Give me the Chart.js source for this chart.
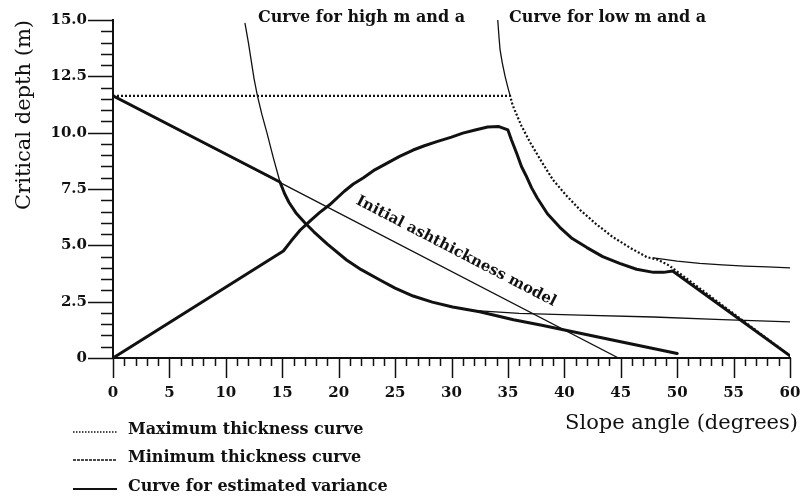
<!DOCTYPE html>
<html>
<head>
<meta charset="utf-8">
<script src="https://cdn.jsdelivr.net/npm/chart.js@4.4.1/dist/chart.umd.min.js"></script>
<style>
  html, body { margin: 0; padding: 0; background: #fff; }
  #wrap { width: 805px; height: 500px; position: relative; }
</style>
</head>
<body>
<div id="wrap"><canvas id="chart"></canvas></div>
<script>
// ---- Axis ticks ----
const slopeTickValues = [0, 5, 10, 15, 20, 25, 30, 35, 40, 45, 50, 55, 60];
const slopeTickLabels = ['0', '5', '10', '15', '20', '25', '30', '35', '40', '45', '50', '55', '60'];
const depthTickValues = [0, 2.5, 5, 7.5, 10, 12.5, 15];
const depthTickLabels = ['0', '2.5', '5.0', '7.5', '10.0', '12.5', '15.0'];

// ---- Initial ashthickness model (straight line) ----
const initialAngle = [0, 44.8];
const initialDepth = [11.63, 0];

// ---- Maximum thickness curve (dotted) ----
const maxAngle = [0, 35.2, 35.4, 35.6, 36.2, 37, 38, 39, 40.2, 41.4, 42.8, 44.3, 45.8, 47.3, 48.3, 49.3, 60];
const maxDepth = [11.63, 11.63, 11.25, 11.0, 10.3, 9.54, 8.7, 7.9, 7.2, 6.57, 5.95, 5.37, 4.9, 4.48, 4.36, 4.1, 0.1];

// ---- Curve for high m and a (thin parts) ----
const highTopAngle = [11.7, 12.0, 12.25, 12.5, 12.8, 13.2, 13.65, 14.2, 14.8];
const highTopDepth = [14.85, 14.0, 13.2, 12.4, 11.63, 10.8, 9.98, 8.9, 7.81];
const highTailAngle = [32.5, 36, 41.4, 47.9, 54, 60];
const highTailDepth = [2.09, 1.98, 1.9, 1.82, 1.7, 1.6];

// ---- Curve for low m and a (thin parts) ----
const lowTopAngle = [34.1, 34.2, 34.3, 34.5, 34.75, 35.0, 35.2];
const lowTopDepth = [15, 14.3, 13.7, 13.1, 12.5, 12.0, 11.63];
const lowTailAngle = [47.9, 50, 52, 54, 56, 58, 60];
const lowTailDepth = [4.44, 4.3, 4.2, 4.13, 4.08, 4.04, 4.0];

// ---- Curves for estimated variance (thick) ----
const riseAngle = [0, 15.1, 15.8, 16.6, 17.5, 18.3, 19.2, 20.5, 21.3, 22.2, 23.2, 24.3, 25.4, 26.6, 27.6, 28.7, 30, 31, 32.1, 33.2, 34.2, 35,
                   35.3, 35.8, 36.2, 36.6, 37.1, 37.6, 38.5, 39.6, 40.7, 42, 43.4, 44.9, 46.4, 47.9, 48.8, 49.6, 60];
const riseDepth = [0, 4.75, 5.2, 5.68, 6.1, 6.45, 6.8, 7.4, 7.72, 8.0, 8.35, 8.65, 8.95, 9.23, 9.42, 9.6, 9.8, 9.98, 10.12, 10.25, 10.27, 10.12,
                   9.7, 9.05, 8.5, 8.1, 7.55, 7.1, 6.4, 5.8, 5.3, 4.9, 4.5, 4.2, 3.94, 3.8, 3.8, 3.86, 0.1];
const fallAngle = [0, 14.8, 15.2, 15.6, 16.2, 17, 17.8, 19, 20.7, 22, 23.7, 25, 26.6, 28.3, 30.1, 32.5, 35.5, 38, 41.4, 45, 50];
const fallDepth = [11.63, 7.81, 7.3, 6.9, 6.45, 6.0, 5.6, 5.05, 4.35, 3.92, 3.45, 3.1, 2.75, 2.48, 2.26, 2.05, 1.7, 1.45, 1.1, 0.72, 0.2];

// ---- Text ----
const legendLabels = ['Maximum thickness curve', 'Minimum thickness curve', 'Curve for estimated variance'];
const curveLabels = ['Curve for high m and a', 'Curve for low m and a'];
const modelLabel = 'Initial ashthickness model';

const INK = '#111';
const SERIF = '"DejaVu Serif", "Liberation Serif", serif';

const pts = (xs, ys) => xs.map((x, i) => ({ x, y: ys[i] }));

function series(label, xs, ys, width, dash) {
  const dotted = !!dash;
  return {
    label,
    data: pts(xs, ys),
    showLine: true,
    borderColor: INK,
    backgroundColor: INK,
    borderWidth: width,
    borderDash: dash || [],
    pointRadius: 0,
    pointHoverRadius: 0,
    fill: false,
    tension: 0,
    borderCapStyle: dotted ? 'butt' : 'round',
    borderJoinStyle: 'round'
  };
}

const datasets = [
  series('Initial ashthickness model', initialAngle, initialDepth, 1.3),
  series('High m and a (upper)', highTopAngle, highTopDepth, 1.3),
  series('High m and a (tail)', highTailAngle, highTailDepth, 1.3),
  series('Low m and a (upper)', lowTopAngle, lowTopDepth, 1.3),
  series('Low m and a (tail)', lowTailAngle, lowTailDepth, 1.3),
  series('Estimated variance (rise)', riseAngle, riseDepth, 3),
  series('Estimated variance (fall)', fallAngle, fallDepth, 3),
  series('Maximum thickness', maxAngle, maxDepth, 2.2, [2, 2])
];

// Minor and major tick marks along both axes, placed through the scales
const tickMarks = {
  id: 'tickMarks',
  afterDraw(chart) {
    const { ctx, chartArea: a, scales: { x, y } } = chart;
    ctx.save();
    ctx.strokeStyle = INK;
    ctx.lineWidth = 1.5;
    ctx.beginPath();
    for (let v = x.min; v <= x.max + 1e-9; v += 1) {
      const px = Math.round(x.getPixelForValue(v)) + 0.5;
      const major = Math.abs(v / 5 - Math.round(v / 5)) < 1e-6;
      ctx.moveTo(px, a.bottom);
      ctx.lineTo(px, a.bottom + (major ? 20 : 8));
    }
    for (let v = y.min; v <= y.max + 1e-9; v += 0.5) {
      const py = Math.round(y.getPixelForValue(v)) + 0.5;
      const major = Math.abs(v / 2.5 - Math.round(v / 2.5)) < 1e-6;
      ctx.moveTo(a.left, py);
      ctx.lineTo(a.left - (major ? 25 : 12), py);
    }
    ctx.stroke();
    ctx.restore();
  }
};

// Curve names, the rotated model label, the x-axis title and the legend underneath
const annotations = {
  id: 'annotations',
  afterDraw(chart) {
    const { ctx, chartArea: a, scales: { x, y } } = chart;
    ctx.save();
    ctx.fillStyle = INK;

    // curve names along the top
    ctx.font = 'bold 16px ' + SERIF;
    ctx.textAlign = 'left';
    ctx.textBaseline = 'middle';
    ctx.fillText(curveLabels[0], x.getPixelForValue(12.85), y.getPixelForValue(15.1));
    ctx.fillText(curveLabels[1], x.getPixelForValue(35.1), y.getPixelForValue(15.1));

    // label running along the initial model line
    const x0 = x.getPixelForValue(initialAngle[0]), y0 = y.getPixelForValue(initialDepth[0]);
    const x1 = x.getPixelForValue(initialAngle[1]), y1 = y.getPixelForValue(initialDepth[1]);
    const ang = Math.atan2(y1 - y0, x1 - x0);
    const at = 29.6;
    const cx = x.getPixelForValue(at);
    const cy = y.getPixelForValue(initialDepth[0] + (initialDepth[1] - initialDepth[0]) * (at - initialAngle[0]) / (initialAngle[1] - initialAngle[0]));
    ctx.save();
    ctx.translate(cx, cy);
    ctx.rotate(ang);
    ctx.font = 'bold 15px ' + SERIF;
    ctx.textAlign = 'center';
    ctx.textBaseline = 'alphabetic';
    ctx.fillText(modelLabel, 0, -16);
    ctx.restore();

    // x-axis title, right-aligned a little past the axis end
    ctx.font = '21px ' + SERIF;
    ctx.textAlign = 'right';
    ctx.textBaseline = 'middle';
    ctx.fillText('Slope angle (degrees)', a.right + 8, 424);

    // legend
    const rows = [430, 458, 487];
    const styles = [
      { w: 1.6, dash: [1.5, 1.5] },
      { w: 1.4, dash: [3, 1] },
      { w: 2, dash: [] }
    ];
    ctx.font = 'bold 16px ' + SERIF;
    ctx.textAlign = 'left';
    ctx.textBaseline = 'middle';
    legendLabels.forEach((t, i) => {
      ctx.save();
      ctx.strokeStyle = INK;
      ctx.lineWidth = styles[i].w;
      ctx.setLineDash(styles[i].dash);
      ctx.beginPath();
      ctx.moveTo(73, rows[i] + 2);
      ctx.lineTo(117, rows[i] + 2);
      ctx.stroke();
      ctx.restore();
      ctx.fillText(t, 128, rows[i]);
    });
    ctx.restore();
  }
};

new Chart(document.getElementById('chart'), {
  type: 'scatter',
  data: { datasets },
  options: {
    responsive: true,
    maintainAspectRatio: false,
    animation: false,
    events: [],
    layout: { padding: { top: 20, right: 15, left: 0, bottom: 0 } },
    plugins: {
      legend: { display: false },
      tooltip: { enabled: false }
    },
    scales: {
      x: {
        type: 'linear',
        min: 0,
        max: 60,
        afterFit: s => { s.height = 142; s.paddingLeft = 0; s.paddingRight = 0; },
        afterBuildTicks: s => { s.ticks = slopeTickValues.map(v => ({ value: v })); },
        grid: { display: true, drawOnChartArea: false, drawTicks: false },
        border: { display: true, color: INK, width: 2 },
        ticks: {
          color: INK,
          padding: 26,
          maxRotation: 0,
          autoSkip: false,
          font: { family: SERIF, size: 15, weight: 'bold' },
          callback: (v) => slopeTickLabels[slopeTickValues.indexOf(v)]
        },
        title: { display: false }
      },
      y: {
        type: 'linear',
        min: 0,
        max: 15,
        afterFit: s => { s.width = 113; s.paddingTop = 0; s.paddingBottom = 0; },
        afterBuildTicks: s => { s.ticks = depthTickValues.map(v => ({ value: v })); },
        grid: { display: true, drawOnChartArea: false, drawTicks: false },
        border: { display: true, color: INK, width: 2 },
        ticks: {
          color: INK,
          padding: 26,
          autoSkip: false,
          font: { family: SERIF, size: 15, weight: 'bold' },
          callback: (v) => depthTickLabels[depthTickValues.indexOf(v)]
        },
        title: {
          display: true,
          text: 'Critical depth (m)',
          align: 'end',
          color: INK,
          font: { family: SERIF, size: 21 },
          padding: { top: 12, bottom: 0 }
        }
      }
    }
  },
  plugins: [tickMarks, annotations]
});
</script>
</body>
</html>
